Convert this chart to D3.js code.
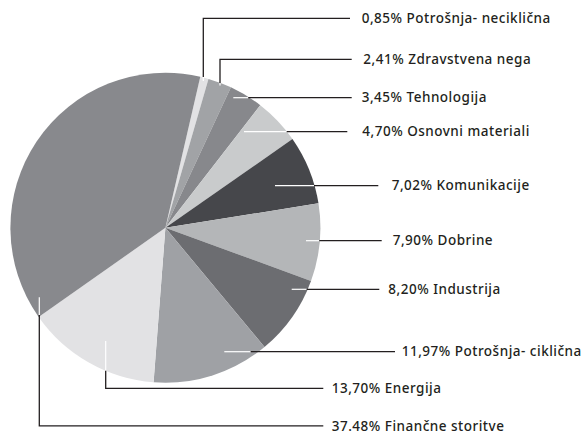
<!DOCTYPE html>
<html>
<head>
<meta charset="utf-8">
<script src="https://cdn.jsdelivr.net/npm/d3@7"></script>
<style>
  body { margin: 0; background: #fff; }
  svg text { font-family: "Noto Sans", "Open Sans", sans-serif; font-size: 13.5px; font-weight: 500; letter-spacing: 0.5px; fill: #231f20; }
</style>
</head>
<body>
<svg id="chart" width="581" height="432"></svg>
<script>
// sectors, clockwise from the top
const sectors = ['Potrošnja- neciklična', 'Zdravstvena nega', 'Tehnologija', 'Osnovni materiali',
  'Komunikacije', 'Dobrine', 'Industrija', 'Potrošnja- ciklična', 'Energija', 'Finančne storitve'];
const shares = [0.85, 2.41, 3.45, 4.70, 7.02, 7.90, 8.20, 11.97, 13.70, 37.48];
const shareLabels = ['0,85%', '2,41%', '3,45%', '4,70%', '7,02%', '7,90%', '8,20%', '11,97%', '13,70%', '37.48%'];
const fills = ['#e2e2e4', '#a1a3a6', '#87888c', '#c9cbcc', '#46474b', '#b4b6b8', '#6c6d71', '#9fa1a5', '#e2e2e4', '#88898d'];

// leader layout: kind, white start, black start (pie edge), label row, line end, text x
const leaders = [
  {kind: 'up',   at: 203.3, w0: 81,    w1: 77,    row: 18.3,  end: 350,   tx: 361.7},
  {kind: 'up',   at: 220,   w0: 85.5,  w1: 83,    row: 59.3,  end: 351.7, tx: 363.3},
  {kind: 'side', row: 97.7,  w0: 233.3, w1: 248.3, end: 351.7, tx: 361.7},
  {kind: 'side', row: 131.7, w0: 244,   w1: 286.7, end: 347.3, tx: 362.3},
  {kind: 'side', row: 185.7, w0: 275,   w1: 314,   end: 378.3, tx: 391.7},
  {kind: 'side', row: 240.7, w0: 306,   w1: 319.3, end: 381.7, tx: 392.7},
  {kind: 'side', row: 289.3, w0: 291.7, w1: 306.7, end: 379.3, tx: 388.3},
  {kind: 'side', row: 351.7, w0: 224.3, w1: 250.7, end: 395,   tx: 401.7},
  {kind: 'down', at: 105.7, w0: 341,   w1: 370.7, row: 388.3, end: 323.3, tx: 331.7},
  {kind: 'down', at: 39.3,  w0: 297.3, w1: 315,   row: 425.8, end: 323.3, tx: 331.7}
];

const cx = 165.4, cy = 227.8, radius = 155;
const start = 13 * Math.PI / 180;

const svg = d3.select('#chart');
const g = svg.append('g').attr('transform', `translate(${cx},${cy})`);

const pie = d3.pie().sort(null).startAngle(start).endAngle(start + 2 * Math.PI);
const arc = d3.arc().innerRadius(0).outerRadius(radius);

g.selectAll('path.slice')
  .data(pie(shares))
  .join('path')
  .attr('class', 'slice')
  .attr('d', arc)
  .attr('fill', (d, i) => fills[i]);

// leaders
const lines = svg.append('g');
leaders.forEach((l, i) => {
  let white, black;
  if (l.kind === 'side') {
    white = [[l.w0, l.row], [l.w1, l.row]];
    black = [[l.w1, l.row], [l.end, l.row]];
  } else {
    white = [[l.at, l.w0], [l.at, l.w1]];
    black = [[l.at, l.w1], [l.at, l.row], [l.end, l.row]];
  }
  lines.append('path').attr('d', d3.line()(white))
    .attr('fill', 'none').attr('stroke', '#fff').attr('stroke-width', 1.2);
  lines.append('path').attr('d', d3.line()(black))
    .attr('fill', 'none').attr('stroke', '#231f20').attr('stroke-width', 1.3);
  svg.append('text')
    .attr('x', l.tx).attr('y', l.row)
    .attr('dy', '0.35em')
    .text(shareLabels[i] + ' ' + sectors[i]);
});
</script>
</body>
</html>
